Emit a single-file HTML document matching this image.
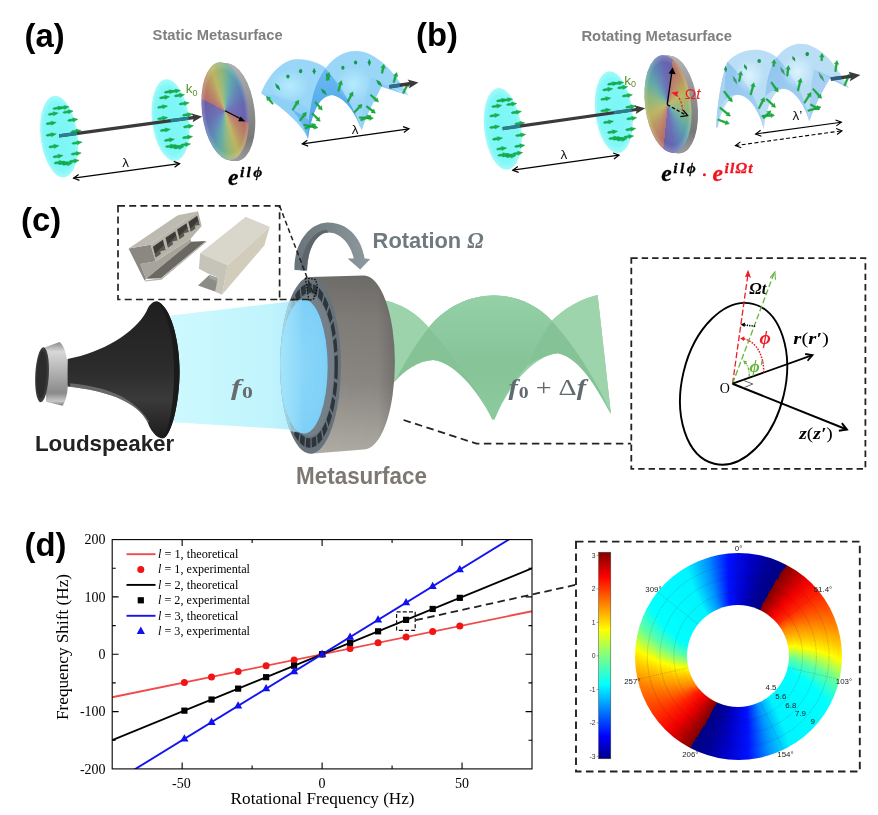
<!DOCTYPE html>
<html lang="en"><head><meta charset="utf-8"><title>Rotating metasurface figure</title>
<style>
html,body{margin:0;padding:0;background:#fff}
#root{position:relative;width:878px;height:815px;overflow:hidden;background:#fff;filter:blur(0.6px)}
#root>svg{position:absolute;left:0;top:0}
#root>div{position:absolute}
.cg{position:absolute;border-radius:50%}
</style></head><body>
<div id="root">
<svg width="878" height="815" viewBox="0 0 878 815"><defs>
<radialGradient id="cy" cx="0.5" cy="0.5" r="0.5"><stop offset="0" stop-color="#7bf6f6"/><stop offset="0.82" stop-color="#82f7f7"/><stop offset="1" stop-color="#a6fafa"/></radialGradient>
<linearGradient id="rim" x1="0" y1="0" x2="0" y2="1"><stop offset="0" stop-color="#b4b4b4"/><stop offset="0.45" stop-color="#909090"/><stop offset="0.8" stop-color="#787878"/><stop offset="1" stop-color="#9a9a9a"/></linearGradient>

<linearGradient id="jet" x1="0" y1="1" x2="0" y2="0"><stop offset="0" stop-color="#000084"/><stop offset="0.11" stop-color="#0000ff"/><stop offset="0.36" stop-color="#00ffff"/><stop offset="0.5" stop-color="#80ff80"/><stop offset="0.625" stop-color="#ffff00"/><stop offset="0.88" stop-color="#ff0000"/><stop offset="1" stop-color="#800000"/></linearGradient>
</defs>
<ellipse cx="231.9" cy="112.19" rx="22.8" ry="49" fill="url(#rim)" transform="rotate(-7 231.9 112.19)"/><ellipse cx="231.43" cy="112.14" rx="22.8" ry="49" fill="url(#rim)" transform="rotate(-7 231.43 112.14)"/><ellipse cx="230.96" cy="112.08" rx="22.8" ry="49" fill="url(#rim)" transform="rotate(-7 230.96 112.08)"/><ellipse cx="230.49" cy="112.02" rx="22.8" ry="49" fill="url(#rim)" transform="rotate(-7 230.49 112.02)"/><ellipse cx="230.01" cy="111.97" rx="22.8" ry="49" fill="url(#rim)" transform="rotate(-7 230.01 111.97)"/><ellipse cx="229.54" cy="111.91" rx="22.8" ry="49" fill="url(#rim)" transform="rotate(-7 229.54 111.91)"/><ellipse cx="229.07" cy="111.85" rx="22.8" ry="49" fill="url(#rim)" transform="rotate(-7 229.07 111.85)"/><ellipse cx="228.6" cy="111.8" rx="22.8" ry="49" fill="url(#rim)" transform="rotate(-7 228.6 111.8)"/><ellipse cx="228.13" cy="111.74" rx="22.8" ry="49" fill="url(#rim)" transform="rotate(-7 228.13 111.74)"/><ellipse cx="227.66" cy="111.68" rx="22.8" ry="49" fill="url(#rim)" transform="rotate(-7 227.66 111.68)"/><ellipse cx="227.19" cy="111.63" rx="22.8" ry="49" fill="url(#rim)" transform="rotate(-7 227.19 111.63)"/><ellipse cx="226.71" cy="111.57" rx="22.8" ry="49" fill="url(#rim)" transform="rotate(-7 226.71 111.57)"/><ellipse cx="226.24" cy="111.51" rx="22.8" ry="49" fill="url(#rim)" transform="rotate(-7 226.24 111.51)"/><ellipse cx="225.77" cy="111.46" rx="22.8" ry="49" fill="url(#rim)" transform="rotate(-7 225.77 111.46)"/><ellipse cx="225.3" cy="111.4" rx="22.8" ry="49" fill="url(#rim)" transform="rotate(-7 225.3 111.4)"/>
<ellipse cx="674.6" cy="104.59" rx="22.8" ry="49" fill="url(#rim)" transform="rotate(-7 674.6 104.59)"/><ellipse cx="674.13" cy="104.54" rx="22.8" ry="49" fill="url(#rim)" transform="rotate(-7 674.13 104.54)"/><ellipse cx="673.66" cy="104.48" rx="22.8" ry="49" fill="url(#rim)" transform="rotate(-7 673.66 104.48)"/><ellipse cx="673.19" cy="104.42" rx="22.8" ry="49" fill="url(#rim)" transform="rotate(-7 673.19 104.42)"/><ellipse cx="672.71" cy="104.37" rx="22.8" ry="49" fill="url(#rim)" transform="rotate(-7 672.71 104.37)"/><ellipse cx="672.24" cy="104.31" rx="22.8" ry="49" fill="url(#rim)" transform="rotate(-7 672.24 104.31)"/><ellipse cx="671.77" cy="104.25" rx="22.8" ry="49" fill="url(#rim)" transform="rotate(-7 671.77 104.25)"/><ellipse cx="671.3" cy="104.2" rx="22.8" ry="49" fill="url(#rim)" transform="rotate(-7 671.3 104.2)"/><ellipse cx="670.83" cy="104.14" rx="22.8" ry="49" fill="url(#rim)" transform="rotate(-7 670.83 104.14)"/><ellipse cx="670.36" cy="104.08" rx="22.8" ry="49" fill="url(#rim)" transform="rotate(-7 670.36 104.08)"/><ellipse cx="669.89" cy="104.03" rx="22.8" ry="49" fill="url(#rim)" transform="rotate(-7 669.89 104.03)"/><ellipse cx="669.41" cy="103.97" rx="22.8" ry="49" fill="url(#rim)" transform="rotate(-7 669.41 103.97)"/><ellipse cx="668.94" cy="103.91" rx="22.8" ry="49" fill="url(#rim)" transform="rotate(-7 668.94 103.91)"/><ellipse cx="668.47" cy="103.86" rx="22.8" ry="49" fill="url(#rim)" transform="rotate(-7 668.47 103.86)"/><ellipse cx="668" cy="103.8" rx="22.8" ry="49" fill="url(#rim)" transform="rotate(-7 668 103.8)"/>
<rect x="598.6" y="552.2" width="12.2" height="206.6" fill="url(#jet)" stroke="#444" stroke-width="0.5"/>
</svg>
<div class="cg" style="left:176.3px;top:62.4px;width:98px;height:98px;transform:rotate(-7deg) scaleX(0.47);background:conic-gradient(from 288deg,#b56a68 0deg,#b98a62 25.71deg,#b9b45e 51.43deg,#8fb57a 77.14deg,#5fa9a6 102.86deg,#5d86b4 128.57deg,#6468b2 154.29deg,#6b5fa6 180deg,#b56a68 180deg,#b98a62 205.71deg,#b9b45e 231.43deg,#8fb57a 257.14deg,#5fa9a6 282.86deg,#5d86b4 308.57deg,#6468b2 334.29deg,#6b5fa6 360deg)"></div>
<div class="cg" style="left:619px;top:54.8px;width:98px;height:98px;transform:rotate(-7deg) scaleX(0.47);background:conic-gradient(from 26deg,#b56a68 0deg,#b98a62 25.71deg,#b9b45e 51.43deg,#8fb57a 77.14deg,#5fa9a6 102.86deg,#5d86b4 128.57deg,#6468b2 154.29deg,#6b5fa6 180deg,#b56a68 180deg,#b98a62 205.71deg,#b9b45e 231.43deg,#8fb57a 257.14deg,#5fa9a6 282.86deg,#5d86b4 308.57deg,#6468b2 334.29deg,#6b5fa6 360deg)"></div>
<div class="cg" style="left:634.6px;top:552.7px;width:207.2px;height:207.2px;background:conic-gradient(from 27.6deg,#800000 0deg,#f00000 15deg,#ff2000 24deg,#ff8000 44deg,#ffc800 56deg,#ffff00 64deg,#b4ff4c 70deg,#60ffa0 77deg,#00ffff 90deg,#00f4ff 122deg,#0090ff 135deg,#0010ff 147deg,#0000c8 160deg,#000098 170deg,#000084 180deg,#800000 180deg,#f00000 195deg,#ff2000 204deg,#ff8000 226.5deg,#ffc800 238.5deg,#ffff00 246.5deg,#b4ff4c 252.5deg,#60ffa0 259.5deg,#00ffff 272.5deg,#00f4ff 302deg,#0090ff 315deg,#0010ff 327deg,#0000c8 340deg,#000098 350deg,#000084 360deg)"></div>
<div class="cg" style="left:638.97px;top:557.07px;width:198.47px;height:198.47px;background:conic-gradient(from 27.36deg,#800000 0deg,#f00000 15deg,#ff2000 24deg,#ff8000 43.14deg,#ffc800 55.14deg,#ffff00 63.14deg,#b4ff4c 69.14deg,#60ffa0 76.14deg,#00ffff 89.14deg,#00f4ff 121.64deg,#0090ff 134.82deg,#0010ff 146.91deg,#0000c8 160deg,#000098 170deg,#000084 180deg,#800000 180deg,#f00000 195deg,#ff2000 204deg,#ff8000 225.18deg,#ffc800 237.18deg,#ffff00 245.18deg,#b4ff4c 251.18deg,#60ffa0 258.18deg,#00ffff 271.18deg,#00f4ff 301.64deg,#0090ff 314.82deg,#0010ff 326.91deg,#0000c8 340deg,#000098 350deg,#000084 360deg)"></div>
<div class="cg" style="left:643.33px;top:561.43px;width:189.73px;height:189.73px;background:conic-gradient(from 27.13deg,#800000 0deg,#f00000 15deg,#ff2000 24deg,#ff8000 42.27deg,#ffc800 54.27deg,#ffff00 62.27deg,#b4ff4c 68.27deg,#60ffa0 75.27deg,#00ffff 88.27deg,#00f4ff 121.27deg,#0090ff 134.64deg,#0010ff 146.82deg,#0000c8 160deg,#000098 170deg,#000084 180deg,#800000 180deg,#f00000 195deg,#ff2000 204deg,#ff8000 223.86deg,#ffc800 235.86deg,#ffff00 243.86deg,#b4ff4c 249.86deg,#60ffa0 256.86deg,#00ffff 269.86deg,#00f4ff 301.27deg,#0090ff 314.64deg,#0010ff 326.82deg,#0000c8 340deg,#000098 350deg,#000084 360deg)"></div>
<div class="cg" style="left:647.7px;top:565.8px;width:181px;height:181px;background:conic-gradient(from 26.89deg,#800000 0deg,#f00000 15deg,#ff2000 24deg,#ff8000 41.41deg,#ffc800 53.41deg,#ffff00 61.41deg,#b4ff4c 67.41deg,#60ffa0 74.41deg,#00ffff 87.41deg,#00f4ff 120.91deg,#0090ff 134.45deg,#0010ff 146.73deg,#0000c8 160deg,#000098 170deg,#000084 180deg,#800000 180deg,#f00000 195deg,#ff2000 204deg,#ff8000 222.55deg,#ffc800 234.55deg,#ffff00 242.55deg,#b4ff4c 248.55deg,#60ffa0 255.55deg,#00ffff 268.55deg,#00f4ff 300.91deg,#0090ff 314.45deg,#0010ff 326.73deg,#0000c8 340deg,#000098 350deg,#000084 360deg)"></div>
<div class="cg" style="left:652.07px;top:570.17px;width:172.27px;height:172.27px;background:conic-gradient(from 26.65deg,#800000 0deg,#f00000 15deg,#ff2000 24deg,#ff8000 40.55deg,#ffc800 52.55deg,#ffff00 60.55deg,#b4ff4c 66.55deg,#60ffa0 73.55deg,#00ffff 86.55deg,#00f4ff 120.55deg,#0090ff 134.27deg,#0010ff 146.64deg,#0000c8 160deg,#000098 170deg,#000084 180deg,#800000 180deg,#f00000 195deg,#ff2000 204deg,#ff8000 221.23deg,#ffc800 233.23deg,#ffff00 241.23deg,#b4ff4c 247.23deg,#60ffa0 254.23deg,#00ffff 267.23deg,#00f4ff 300.55deg,#0090ff 314.27deg,#0010ff 326.64deg,#0000c8 340deg,#000098 350deg,#000084 360deg)"></div>
<div class="cg" style="left:656.43px;top:574.53px;width:163.53px;height:163.53px;background:conic-gradient(from 26.42deg,#800000 0deg,#f00000 15deg,#ff2000 24deg,#ff8000 39.68deg,#ffc800 51.68deg,#ffff00 59.68deg,#b4ff4c 65.68deg,#60ffa0 72.68deg,#00ffff 85.68deg,#00f4ff 120.18deg,#0090ff 134.09deg,#0010ff 146.55deg,#0000c8 160deg,#000098 170deg,#000084 180deg,#800000 180deg,#f00000 195deg,#ff2000 204deg,#ff8000 219.91deg,#ffc800 231.91deg,#ffff00 239.91deg,#b4ff4c 245.91deg,#60ffa0 252.91deg,#00ffff 265.91deg,#00f4ff 300.18deg,#0090ff 314.09deg,#0010ff 326.55deg,#0000c8 340deg,#000098 350deg,#000084 360deg)"></div>
<div class="cg" style="left:660.8px;top:578.9px;width:154.8px;height:154.8px;background:conic-gradient(from 26.18deg,#800000 0deg,#f00000 15deg,#ff2000 24deg,#ff8000 38.82deg,#ffc800 50.82deg,#ffff00 58.82deg,#b4ff4c 64.82deg,#60ffa0 71.82deg,#00ffff 84.82deg,#00f4ff 119.82deg,#0090ff 133.91deg,#0010ff 146.45deg,#0000c8 160deg,#000098 170deg,#000084 180deg,#800000 180deg,#f00000 195deg,#ff2000 204deg,#ff8000 218.59deg,#ffc800 230.59deg,#ffff00 238.59deg,#b4ff4c 244.59deg,#60ffa0 251.59deg,#00ffff 264.59deg,#00f4ff 299.82deg,#0090ff 313.91deg,#0010ff 326.45deg,#0000c8 340deg,#000098 350deg,#000084 360deg)"></div>
<div class="cg" style="left:665.17px;top:583.27px;width:146.07px;height:146.07px;background:conic-gradient(from 25.95deg,#800000 0deg,#f00000 15deg,#ff2000 24deg,#ff8000 37.95deg,#ffc800 49.95deg,#ffff00 57.95deg,#b4ff4c 63.95deg,#60ffa0 70.95deg,#00ffff 83.95deg,#00f4ff 119.45deg,#0090ff 133.73deg,#0010ff 146.36deg,#0000c8 160deg,#000098 170deg,#000084 180deg,#800000 180deg,#f00000 195deg,#ff2000 204deg,#ff8000 217.27deg,#ffc800 229.27deg,#ffff00 237.27deg,#b4ff4c 243.27deg,#60ffa0 250.27deg,#00ffff 263.27deg,#00f4ff 299.45deg,#0090ff 313.73deg,#0010ff 326.36deg,#0000c8 340deg,#000098 350deg,#000084 360deg)"></div>
<div class="cg" style="left:669.53px;top:587.63px;width:137.33px;height:137.33px;background:conic-gradient(from 25.71deg,#800000 0deg,#f00000 15deg,#ff2000 24deg,#ff8000 37.09deg,#ffc800 49.09deg,#ffff00 57.09deg,#b4ff4c 63.09deg,#60ffa0 70.09deg,#00ffff 83.09deg,#00f4ff 119.09deg,#0090ff 133.55deg,#0010ff 146.27deg,#0000c8 160deg,#000098 170deg,#000084 180deg,#800000 180deg,#f00000 195deg,#ff2000 204deg,#ff8000 215.95deg,#ffc800 227.95deg,#ffff00 235.95deg,#b4ff4c 241.95deg,#60ffa0 248.95deg,#00ffff 261.95deg,#00f4ff 299.09deg,#0090ff 313.55deg,#0010ff 326.27deg,#0000c8 340deg,#000098 350deg,#000084 360deg)"></div>
<div class="cg" style="left:673.9px;top:592px;width:128.6px;height:128.6px;background:conic-gradient(from 25.47deg,#800000 0deg,#f00000 15deg,#ff2000 24deg,#ff8000 36.23deg,#ffc800 48.23deg,#ffff00 56.23deg,#b4ff4c 62.23deg,#60ffa0 69.23deg,#00ffff 82.23deg,#00f4ff 118.73deg,#0090ff 133.36deg,#0010ff 146.18deg,#0000c8 160deg,#000098 170deg,#000084 180deg,#800000 180deg,#f00000 195deg,#ff2000 204deg,#ff8000 214.64deg,#ffc800 226.64deg,#ffff00 234.64deg,#b4ff4c 240.64deg,#60ffa0 247.64deg,#00ffff 260.64deg,#00f4ff 298.73deg,#0090ff 313.36deg,#0010ff 326.18deg,#0000c8 340deg,#000098 350deg,#000084 360deg)"></div>
<div class="cg" style="left:678.27px;top:596.37px;width:119.87px;height:119.87px;background:conic-gradient(from 25.24deg,#800000 0deg,#f00000 15deg,#ff2000 24deg,#ff8000 35.36deg,#ffc800 47.36deg,#ffff00 55.36deg,#b4ff4c 61.36deg,#60ffa0 68.36deg,#00ffff 81.36deg,#00f4ff 118.36deg,#0090ff 133.18deg,#0010ff 146.09deg,#0000c8 160deg,#000098 170deg,#000084 180deg,#800000 180deg,#f00000 195deg,#ff2000 204deg,#ff8000 213.32deg,#ffc800 225.32deg,#ffff00 233.32deg,#b4ff4c 239.32deg,#60ffa0 246.32deg,#00ffff 259.32deg,#00f4ff 298.36deg,#0090ff 313.18deg,#0010ff 326.09deg,#0000c8 340deg,#000098 350deg,#000084 360deg)"></div>
<div class="cg" style="left:682.63px;top:600.73px;width:111.13px;height:111.13px;background:conic-gradient(from 25deg,#800000 0deg,#f00000 15deg,#ff2000 24deg,#ff8000 34.5deg,#ffc800 46.5deg,#ffff00 54.5deg,#b4ff4c 60.5deg,#60ffa0 67.5deg,#00ffff 80.5deg,#00f4ff 118deg,#0090ff 133deg,#0010ff 146deg,#0000c8 160deg,#000098 170deg,#000084 180deg,#800000 180deg,#f00000 195deg,#ff2000 204deg,#ff8000 212deg,#ffc800 224deg,#ffff00 232deg,#b4ff4c 238deg,#60ffa0 245deg,#00ffff 258deg,#00f4ff 298deg,#0090ff 313deg,#0010ff 326deg,#0000c8 340deg,#000098 350deg,#000084 360deg)"></div>
<div class="cg" style="left:687px;top:605.1px;width:102.4px;height:102.4px;background:#fff"></div>
<svg width="878" height="815" viewBox="0 0 878 815">
<defs><radialGradient id="dshade" cx="0.5" cy="0.5" r="0.5"><stop offset="0" stop-color="#fff" stop-opacity="0.12"/><stop offset="0.85" stop-color="#fff" stop-opacity="0"/><stop offset="1" stop-color="#ddd" stop-opacity="0.25"/></radialGradient></defs>
<ellipse cx="225.3" cy="111.4" rx="22.8" ry="49" fill="url(#dshade)" transform="rotate(-7 225.3 111.4)"/>
<ellipse cx="668" cy="103.8" rx="22.8" ry="49" fill="url(#dshade)" transform="rotate(-7 668 103.8)"/>
<g id="ab"><ellipse cx="59.2" cy="136.6" rx="18.6" ry="41.2" fill="url(#cy)" transform="rotate(-7 59.2 136.6)"/><ellipse cx="170.6" cy="120.2" rx="18.6" ry="41.2" fill="url(#cy)" transform="rotate(-7 170.6 120.2)"/><polygon points="-5.2,0 -4,-0.95 0.6,-1.05 0.2,-2.05 5.2,0 0.2,2.05 0.6,1.05 -4,0.95" fill="#12b24c" stroke="#0f9a44" stroke-width="0.4" transform="translate(57.9 108.1) rotate(-8)"/><polygon points="-5.2,0 -4,-0.95 0.6,-1.05 0.2,-2.05 5.2,0 0.2,2.05 0.6,1.05 -4,0.95" fill="#12b24c" stroke="#0f9a44" stroke-width="0.4" transform="translate(63.9 107.5) rotate(-8)"/><polygon points="-5.2,0 -4,-0.95 0.6,-1.05 0.2,-2.05 5.2,0 0.2,2.05 0.6,1.05 -4,0.95" fill="#12b24c" stroke="#0f9a44" stroke-width="0.4" transform="translate(53.1 113.8) rotate(-8)"/><polygon points="-5.2,0 -4,-0.95 0.6,-1.05 0.2,-2.05 5.2,0 0.2,2.05 0.6,1.05 -4,0.95" fill="#12b24c" stroke="#0f9a44" stroke-width="0.4" transform="translate(68 111.8) rotate(-8)"/><polygon points="-5.2,0 -4,-0.95 0.6,-1.05 0.2,-2.05 5.2,0 0.2,2.05 0.6,1.05 -4,0.95" fill="#12b24c" stroke="#0f9a44" stroke-width="0.4" transform="translate(51.1 123.2) rotate(-8)"/><polygon points="-5.2,0 -4,-0.95 0.6,-1.05 0.2,-2.05 5.2,0 0.2,2.05 0.6,1.05 -4,0.95" fill="#12b24c" stroke="#0f9a44" stroke-width="0.4" transform="translate(72.7 119.9) rotate(-8)"/><polygon points="-5.2,0 -4,-0.95 0.6,-1.05 0.2,-2.05 5.2,0 0.2,2.05 0.6,1.05 -4,0.95" fill="#12b24c" stroke="#0f9a44" stroke-width="0.4" transform="translate(51.1 134.7) rotate(-8)"/><polygon points="-5.2,0 -4,-0.95 0.6,-1.05 0.2,-2.05 5.2,0 0.2,2.05 0.6,1.05 -4,0.95" fill="#12b24c" stroke="#0f9a44" stroke-width="0.4" transform="translate(76.1 131.1) rotate(-8)"/><polygon points="-5.2,0 -4,-0.95 0.6,-1.05 0.2,-2.05 5.2,0 0.2,2.05 0.6,1.05 -4,0.95" fill="#12b24c" stroke="#0f9a44" stroke-width="0.4" transform="translate(53.8 146.4) rotate(-8)"/><polygon points="-5.2,0 -4,-0.95 0.6,-1.05 0.2,-2.05 5.2,0 0.2,2.05 0.6,1.05 -4,0.95" fill="#12b24c" stroke="#0f9a44" stroke-width="0.4" transform="translate(77 142.8) rotate(-8)"/><polygon points="-5.2,0 -4,-0.95 0.6,-1.05 0.2,-2.05 5.2,0 0.2,2.05 0.6,1.05 -4,0.95" fill="#12b24c" stroke="#0f9a44" stroke-width="0.4" transform="translate(57.9 156.3) rotate(-8)"/><polygon points="-5.2,0 -4,-0.95 0.6,-1.05 0.2,-2.05 5.2,0 0.2,2.05 0.6,1.05 -4,0.95" fill="#12b24c" stroke="#0f9a44" stroke-width="0.4" transform="translate(76.1 153.6) rotate(-8)"/><polygon points="-5.2,0 -4,-0.95 0.6,-1.05 0.2,-2.05 5.2,0 0.2,2.05 0.6,1.05 -4,0.95" fill="#12b24c" stroke="#0f9a44" stroke-width="0.4" transform="translate(63.2 163) rotate(-8)"/><polygon points="-5.2,0 -4,-0.95 0.6,-1.05 0.2,-2.05 5.2,0 0.2,2.05 0.6,1.05 -4,0.95" fill="#12b24c" stroke="#0f9a44" stroke-width="0.4" transform="translate(74 161) rotate(-8)"/><polygon points="-5.2,0 -4,-0.95 0.6,-1.05 0.2,-2.05 5.2,0 0.2,2.05 0.6,1.05 -4,0.95" fill="#12b24c" stroke="#0f9a44" stroke-width="0.4" transform="translate(67.3 163.8) rotate(-8)"/><polygon points="-5.2,0 -4,-0.95 0.6,-1.05 0.2,-2.05 5.2,0 0.2,2.05 0.6,1.05 -4,0.95" fill="#12b24c" stroke="#0f9a44" stroke-width="0.4" transform="translate(59.2 162.5) rotate(-8)"/><polygon points="-5.2,0 -4,-0.95 0.6,-1.05 0.2,-2.05 5.2,0 0.2,2.05 0.6,1.05 -4,0.95" fill="#12b24c" stroke="#0f9a44" stroke-width="0.4" transform="translate(169.3 91.7) rotate(-8)"/><polygon points="-5.2,0 -4,-0.95 0.6,-1.05 0.2,-2.05 5.2,0 0.2,2.05 0.6,1.05 -4,0.95" fill="#12b24c" stroke="#0f9a44" stroke-width="0.4" transform="translate(175.3 91.1) rotate(-8)"/><polygon points="-5.2,0 -4,-0.95 0.6,-1.05 0.2,-2.05 5.2,0 0.2,2.05 0.6,1.05 -4,0.95" fill="#12b24c" stroke="#0f9a44" stroke-width="0.4" transform="translate(164.5 97.4) rotate(-8)"/><polygon points="-5.2,0 -4,-0.95 0.6,-1.05 0.2,-2.05 5.2,0 0.2,2.05 0.6,1.05 -4,0.95" fill="#12b24c" stroke="#0f9a44" stroke-width="0.4" transform="translate(179.4 95.4) rotate(-8)"/><polygon points="-5.2,0 -4,-0.95 0.6,-1.05 0.2,-2.05 5.2,0 0.2,2.05 0.6,1.05 -4,0.95" fill="#12b24c" stroke="#0f9a44" stroke-width="0.4" transform="translate(162.5 106.8) rotate(-8)"/><polygon points="-5.2,0 -4,-0.95 0.6,-1.05 0.2,-2.05 5.2,0 0.2,2.05 0.6,1.05 -4,0.95" fill="#12b24c" stroke="#0f9a44" stroke-width="0.4" transform="translate(184.1 103.5) rotate(-8)"/><polygon points="-5.2,0 -4,-0.95 0.6,-1.05 0.2,-2.05 5.2,0 0.2,2.05 0.6,1.05 -4,0.95" fill="#12b24c" stroke="#0f9a44" stroke-width="0.4" transform="translate(162.5 118.3) rotate(-8)"/><polygon points="-5.2,0 -4,-0.95 0.6,-1.05 0.2,-2.05 5.2,0 0.2,2.05 0.6,1.05 -4,0.95" fill="#12b24c" stroke="#0f9a44" stroke-width="0.4" transform="translate(187.5 114.7) rotate(-8)"/><polygon points="-5.2,0 -4,-0.95 0.6,-1.05 0.2,-2.05 5.2,0 0.2,2.05 0.6,1.05 -4,0.95" fill="#12b24c" stroke="#0f9a44" stroke-width="0.4" transform="translate(165.2 130) rotate(-8)"/><polygon points="-5.2,0 -4,-0.95 0.6,-1.05 0.2,-2.05 5.2,0 0.2,2.05 0.6,1.05 -4,0.95" fill="#12b24c" stroke="#0f9a44" stroke-width="0.4" transform="translate(188.4 126.4) rotate(-8)"/><polygon points="-5.2,0 -4,-0.95 0.6,-1.05 0.2,-2.05 5.2,0 0.2,2.05 0.6,1.05 -4,0.95" fill="#12b24c" stroke="#0f9a44" stroke-width="0.4" transform="translate(169.3 139.9) rotate(-8)"/><polygon points="-5.2,0 -4,-0.95 0.6,-1.05 0.2,-2.05 5.2,0 0.2,2.05 0.6,1.05 -4,0.95" fill="#12b24c" stroke="#0f9a44" stroke-width="0.4" transform="translate(187.5 137.2) rotate(-8)"/><polygon points="-5.2,0 -4,-0.95 0.6,-1.05 0.2,-2.05 5.2,0 0.2,2.05 0.6,1.05 -4,0.95" fill="#12b24c" stroke="#0f9a44" stroke-width="0.4" transform="translate(174.6 146.6) rotate(-8)"/><polygon points="-5.2,0 -4,-0.95 0.6,-1.05 0.2,-2.05 5.2,0 0.2,2.05 0.6,1.05 -4,0.95" fill="#12b24c" stroke="#0f9a44" stroke-width="0.4" transform="translate(185.4 144.6) rotate(-8)"/><polygon points="-5.2,0 -4,-0.95 0.6,-1.05 0.2,-2.05 5.2,0 0.2,2.05 0.6,1.05 -4,0.95" fill="#12b24c" stroke="#0f9a44" stroke-width="0.4" transform="translate(178.7 147.4) rotate(-8)"/><polygon points="-5.2,0 -4,-0.95 0.6,-1.05 0.2,-2.05 5.2,0 0.2,2.05 0.6,1.05 -4,0.95" fill="#12b24c" stroke="#0f9a44" stroke-width="0.4" transform="translate(170.6 146.1) rotate(-8)"/><polygon points="58.98,134.21 193.07,116.02 191.5,113.41 202.2,116.4 192.68,122.13 193.5,119.2 59.42,137.39" fill="#3a3a3a"/><line x1="59.2" y1="135.8" x2="77.08" y2="133.38" stroke="#2b7f8c" stroke-width="3.2"/><line x1="170.74" y1="120.67" x2="188.62" y2="118.24" stroke="#2b7f8c" stroke-width="3.2"/><line x1="73.6" y1="178.2" x2="179.6" y2="163.6" stroke="#000" stroke-width="1.2"/><polyline points="173.74,161.38 179.6,163.6 174.56,167.32" fill="none" stroke="#000" stroke-width="1.2" stroke-linejoin="miter"/><polyline points="79.46,180.42 73.6,178.2 78.64,174.48" fill="none" stroke="#000" stroke-width="1.2" stroke-linejoin="miter"/><text x="125.6" y="167" text-anchor="middle" font-family='"Liberation Sans", sans-serif' font-size="13.5" fill="#111">λ</text><text x="185.8" y="93.3" font-family='"Liberation Sans", sans-serif' font-size="13.5" fill="#5c8f2c">k<tspan font-size="9" dy="2.6">0</tspan></text><text x="152.6" y="39.8" font-family='"Liberation Sans", sans-serif' font-weight="bold" font-size="13.8" fill="#7f7f7f" textLength="130" lengthAdjust="spacingAndGlyphs">Static Metasurface</text><text x="24.5" y="46.5" font-family='"Liberation Sans", sans-serif' font-weight="bold" font-size="32.8" fill="#000">(a)</text><line x1="225" y1="110.8" x2="241.5" y2="119.3" stroke="#000" stroke-width="1.2"/><polygon points="245.3,121.4 238.2,121.2 240.6,116.6" fill="#000"/><text x="228" y="185.2" font-family='"Liberation Serif", "DejaVu Serif", serif' font-weight="bold" font-style="italic" font-size="23.5" fill="#000" stroke="#000" stroke-width="0.3">e</text><text x="240" y="177.3" font-family='"Liberation Serif", "DejaVu Serif", serif' font-weight="bold" font-style="italic" font-size="15.5" fill="#000" stroke="#000" stroke-width="0.3" textLength="22.2" lengthAdjust="spacing">ilϕ</text><ellipse cx="502.8" cy="128.9" rx="18.6" ry="41.2" fill="url(#cy)" transform="rotate(-7 502.8 128.9)"/><ellipse cx="613.8" cy="112.2" rx="18.6" ry="41.2" fill="url(#cy)" transform="rotate(-7 613.8 112.2)"/><polygon points="-5.2,0 -4,-0.95 0.6,-1.05 0.2,-2.05 5.2,0 0.2,2.05 0.6,1.05 -4,0.95" fill="#12b24c" stroke="#0f9a44" stroke-width="0.4" transform="translate(501.5 100.4) rotate(-8)"/><polygon points="-5.2,0 -4,-0.95 0.6,-1.05 0.2,-2.05 5.2,0 0.2,2.05 0.6,1.05 -4,0.95" fill="#12b24c" stroke="#0f9a44" stroke-width="0.4" transform="translate(507.5 99.8) rotate(-8)"/><polygon points="-5.2,0 -4,-0.95 0.6,-1.05 0.2,-2.05 5.2,0 0.2,2.05 0.6,1.05 -4,0.95" fill="#12b24c" stroke="#0f9a44" stroke-width="0.4" transform="translate(496.7 106.1) rotate(-8)"/><polygon points="-5.2,0 -4,-0.95 0.6,-1.05 0.2,-2.05 5.2,0 0.2,2.05 0.6,1.05 -4,0.95" fill="#12b24c" stroke="#0f9a44" stroke-width="0.4" transform="translate(511.6 104.1) rotate(-8)"/><polygon points="-5.2,0 -4,-0.95 0.6,-1.05 0.2,-2.05 5.2,0 0.2,2.05 0.6,1.05 -4,0.95" fill="#12b24c" stroke="#0f9a44" stroke-width="0.4" transform="translate(494.7 115.5) rotate(-8)"/><polygon points="-5.2,0 -4,-0.95 0.6,-1.05 0.2,-2.05 5.2,0 0.2,2.05 0.6,1.05 -4,0.95" fill="#12b24c" stroke="#0f9a44" stroke-width="0.4" transform="translate(516.3 112.2) rotate(-8)"/><polygon points="-5.2,0 -4,-0.95 0.6,-1.05 0.2,-2.05 5.2,0 0.2,2.05 0.6,1.05 -4,0.95" fill="#12b24c" stroke="#0f9a44" stroke-width="0.4" transform="translate(494.7 127) rotate(-8)"/><polygon points="-5.2,0 -4,-0.95 0.6,-1.05 0.2,-2.05 5.2,0 0.2,2.05 0.6,1.05 -4,0.95" fill="#12b24c" stroke="#0f9a44" stroke-width="0.4" transform="translate(519.7 123.4) rotate(-8)"/><polygon points="-5.2,0 -4,-0.95 0.6,-1.05 0.2,-2.05 5.2,0 0.2,2.05 0.6,1.05 -4,0.95" fill="#12b24c" stroke="#0f9a44" stroke-width="0.4" transform="translate(497.4 138.7) rotate(-8)"/><polygon points="-5.2,0 -4,-0.95 0.6,-1.05 0.2,-2.05 5.2,0 0.2,2.05 0.6,1.05 -4,0.95" fill="#12b24c" stroke="#0f9a44" stroke-width="0.4" transform="translate(520.6 135.1) rotate(-8)"/><polygon points="-5.2,0 -4,-0.95 0.6,-1.05 0.2,-2.05 5.2,0 0.2,2.05 0.6,1.05 -4,0.95" fill="#12b24c" stroke="#0f9a44" stroke-width="0.4" transform="translate(501.5 148.6) rotate(-8)"/><polygon points="-5.2,0 -4,-0.95 0.6,-1.05 0.2,-2.05 5.2,0 0.2,2.05 0.6,1.05 -4,0.95" fill="#12b24c" stroke="#0f9a44" stroke-width="0.4" transform="translate(519.7 145.9) rotate(-8)"/><polygon points="-5.2,0 -4,-0.95 0.6,-1.05 0.2,-2.05 5.2,0 0.2,2.05 0.6,1.05 -4,0.95" fill="#12b24c" stroke="#0f9a44" stroke-width="0.4" transform="translate(506.8 155.3) rotate(-8)"/><polygon points="-5.2,0 -4,-0.95 0.6,-1.05 0.2,-2.05 5.2,0 0.2,2.05 0.6,1.05 -4,0.95" fill="#12b24c" stroke="#0f9a44" stroke-width="0.4" transform="translate(517.6 153.3) rotate(-8)"/><polygon points="-5.2,0 -4,-0.95 0.6,-1.05 0.2,-2.05 5.2,0 0.2,2.05 0.6,1.05 -4,0.95" fill="#12b24c" stroke="#0f9a44" stroke-width="0.4" transform="translate(510.9 156.1) rotate(-8)"/><polygon points="-5.2,0 -4,-0.95 0.6,-1.05 0.2,-2.05 5.2,0 0.2,2.05 0.6,1.05 -4,0.95" fill="#12b24c" stroke="#0f9a44" stroke-width="0.4" transform="translate(502.8 154.8) rotate(-8)"/><polygon points="-5.2,0 -4,-0.95 0.6,-1.05 0.2,-2.05 5.2,0 0.2,2.05 0.6,1.05 -4,0.95" fill="#12b24c" stroke="#0f9a44" stroke-width="0.4" transform="translate(612.5 83.7) rotate(-8)"/><polygon points="-5.2,0 -4,-0.95 0.6,-1.05 0.2,-2.05 5.2,0 0.2,2.05 0.6,1.05 -4,0.95" fill="#12b24c" stroke="#0f9a44" stroke-width="0.4" transform="translate(618.5 83.1) rotate(-8)"/><polygon points="-5.2,0 -4,-0.95 0.6,-1.05 0.2,-2.05 5.2,0 0.2,2.05 0.6,1.05 -4,0.95" fill="#12b24c" stroke="#0f9a44" stroke-width="0.4" transform="translate(607.7 89.4) rotate(-8)"/><polygon points="-5.2,0 -4,-0.95 0.6,-1.05 0.2,-2.05 5.2,0 0.2,2.05 0.6,1.05 -4,0.95" fill="#12b24c" stroke="#0f9a44" stroke-width="0.4" transform="translate(622.6 87.4) rotate(-8)"/><polygon points="-5.2,0 -4,-0.95 0.6,-1.05 0.2,-2.05 5.2,0 0.2,2.05 0.6,1.05 -4,0.95" fill="#12b24c" stroke="#0f9a44" stroke-width="0.4" transform="translate(605.7 98.8) rotate(-8)"/><polygon points="-5.2,0 -4,-0.95 0.6,-1.05 0.2,-2.05 5.2,0 0.2,2.05 0.6,1.05 -4,0.95" fill="#12b24c" stroke="#0f9a44" stroke-width="0.4" transform="translate(627.3 95.5) rotate(-8)"/><polygon points="-5.2,0 -4,-0.95 0.6,-1.05 0.2,-2.05 5.2,0 0.2,2.05 0.6,1.05 -4,0.95" fill="#12b24c" stroke="#0f9a44" stroke-width="0.4" transform="translate(605.7 110.3) rotate(-8)"/><polygon points="-5.2,0 -4,-0.95 0.6,-1.05 0.2,-2.05 5.2,0 0.2,2.05 0.6,1.05 -4,0.95" fill="#12b24c" stroke="#0f9a44" stroke-width="0.4" transform="translate(630.7 106.7) rotate(-8)"/><polygon points="-5.2,0 -4,-0.95 0.6,-1.05 0.2,-2.05 5.2,0 0.2,2.05 0.6,1.05 -4,0.95" fill="#12b24c" stroke="#0f9a44" stroke-width="0.4" transform="translate(608.4 122) rotate(-8)"/><polygon points="-5.2,0 -4,-0.95 0.6,-1.05 0.2,-2.05 5.2,0 0.2,2.05 0.6,1.05 -4,0.95" fill="#12b24c" stroke="#0f9a44" stroke-width="0.4" transform="translate(631.6 118.4) rotate(-8)"/><polygon points="-5.2,0 -4,-0.95 0.6,-1.05 0.2,-2.05 5.2,0 0.2,2.05 0.6,1.05 -4,0.95" fill="#12b24c" stroke="#0f9a44" stroke-width="0.4" transform="translate(612.5 131.9) rotate(-8)"/><polygon points="-5.2,0 -4,-0.95 0.6,-1.05 0.2,-2.05 5.2,0 0.2,2.05 0.6,1.05 -4,0.95" fill="#12b24c" stroke="#0f9a44" stroke-width="0.4" transform="translate(630.7 129.2) rotate(-8)"/><polygon points="-5.2,0 -4,-0.95 0.6,-1.05 0.2,-2.05 5.2,0 0.2,2.05 0.6,1.05 -4,0.95" fill="#12b24c" stroke="#0f9a44" stroke-width="0.4" transform="translate(617.8 138.6) rotate(-8)"/><polygon points="-5.2,0 -4,-0.95 0.6,-1.05 0.2,-2.05 5.2,0 0.2,2.05 0.6,1.05 -4,0.95" fill="#12b24c" stroke="#0f9a44" stroke-width="0.4" transform="translate(628.6 136.6) rotate(-8)"/><polygon points="-5.2,0 -4,-0.95 0.6,-1.05 0.2,-2.05 5.2,0 0.2,2.05 0.6,1.05 -4,0.95" fill="#12b24c" stroke="#0f9a44" stroke-width="0.4" transform="translate(621.9 139.4) rotate(-8)"/><polygon points="-5.2,0 -4,-0.95 0.6,-1.05 0.2,-2.05 5.2,0 0.2,2.05 0.6,1.05 -4,0.95" fill="#12b24c" stroke="#0f9a44" stroke-width="0.4" transform="translate(613.8 138.1) rotate(-8)"/><polygon points="502.37,127.02 636.06,107.89 634.48,105.29 645.2,108.2 635.73,114 636.52,111.06 502.83,130.18" fill="#3a3a3a"/><line x1="502.6" y1="128.6" x2="520.43" y2="126.05" stroke="#2b7f8c" stroke-width="3.2"/><line x1="613.83" y1="112.69" x2="631.65" y2="110.14" stroke="#2b7f8c" stroke-width="3.2"/><line x1="512.8" y1="170.2" x2="619" y2="155.2" stroke="#000" stroke-width="1.2"/><polyline points="613.13,153 619,155.2 613.97,158.94" fill="none" stroke="#000" stroke-width="1.2" stroke-linejoin="miter"/><polyline points="518.67,172.4 512.8,170.2 517.83,166.46" fill="none" stroke="#000" stroke-width="1.2" stroke-linejoin="miter"/><text x="563.8" y="158.6" text-anchor="middle" font-family='"Liberation Sans", sans-serif' font-size="13.5" fill="#111">λ</text><text x="624.2" y="84.6" font-family='"Liberation Sans", sans-serif' font-size="13.5" fill="#5c8f2c">k<tspan font-size="9" dy="2.6">0</tspan></text><text x="581.4" y="41" font-family='"Liberation Sans", sans-serif' font-weight="bold" font-size="13.8" fill="#7f7f7f" textLength="150.6" lengthAdjust="spacingAndGlyphs">Rotating Metasurface</text><text x="416" y="46.4" font-family='"Liberation Sans", sans-serif' font-weight="bold" font-size="32.8" fill="#000">(b)</text><line x1="667.2" y1="104.6" x2="671.8" y2="72.5" stroke="#000" stroke-width="1.3"/><polygon points="672.6,67.2 675.6,74.2 668.6,73.4" fill="#000"/><line x1="667.2" y1="104.6" x2="684.5" y2="114.2" stroke="#000" stroke-width="1.3" stroke-dasharray="3.4 2"/><polyline points="680.4,116.6 687.6,115.6 683.2,110.2" fill="none" stroke="#000" stroke-width="1.2"/><path d="M682.4 111 Q682.6 99.5 674.6 93.2" fill="none" stroke="#ee1c24" stroke-width="1.2" stroke-dasharray="2.4 1.4"/><polygon points="671.4,92.4 678.6,91.2 676.4,96.4" fill="#ee1c24"/><text x="684.8" y="99.2" font-family='"Liberation Sans", sans-serif' font-size="15.2" fill="#ee1c24">Ω<tspan font-style="italic">t</tspan></text><text x="661.2" y="180.9" font-family='"Liberation Serif", "DejaVu Serif", serif' font-weight="bold" font-style="italic" font-size="23.5" fill="#000" stroke="#000" stroke-width="0.3">e</text><text x="673.2" y="173" font-family='"Liberation Serif", "DejaVu Serif", serif' font-weight="bold" font-style="italic" font-size="15.5" fill="#000" stroke="#000" stroke-width="0.3" textLength="22.6" lengthAdjust="spacing">ilϕ</text><circle cx="704.4" cy="174.8" r="1.5" fill="#f0141e"/><text x="712.4" y="180.9" font-family='"Liberation Serif", "DejaVu Serif", serif' font-weight="bold" font-style="italic" font-size="23.5" fill="#f0141e" stroke="#f0141e" stroke-width="0.3">e</text><text x="724.4" y="173" font-family='"Liberation Serif", "DejaVu Serif", serif' font-weight="bold" font-style="italic" font-size="15.5" fill="#f0141e" stroke="#f0141e" stroke-width="0.3" textLength="28.2" lengthAdjust="spacing">ilΩt</text></g>
<defs><radialGradient id="hl1" cx="0.5" cy="0.5" r="0.5"><stop offset="0" stop-color="#b6ecfe" stop-opacity="0.95"/><stop offset="1" stop-color="#b6ecfe" stop-opacity="0"/></radialGradient><linearGradient id="wdg" x1="0" y1="0" x2="0" y2="1"><stop offset="0" stop-color="#6ab8f0"/><stop offset="0.45" stop-color="#5aaeee"/><stop offset="1" stop-color="#4aa2ea"/></linearGradient><linearGradient id="wdgb" x1="0" y1="0" x2="1" y2="1"><stop offset="0" stop-color="#8fc4ee"/><stop offset="1" stop-color="#a6d2f3"/></linearGradient><radialGradient id="hl2" cx="0.5" cy="0.5" r="0.5"><stop offset="0" stop-color="#dcf4ff" stop-opacity="0.95"/><stop offset="1" stop-color="#dcf4ff" stop-opacity="0"/></radialGradient></defs>
<g transform="translate(250 40) scale(0.205)"><path d="M55 260 C95 160 165 95 230 95 C290 95 340 115 370 138 C410 85 460 55 515 55 C600 55 690 130 770 270 C730 243 690 232 640 228 C610 290 565 370 545 440 C520 370 470 280 400 268 C340 272 300 350 283 482 C262 420 160 330 55 260Z" fill="#9ad6f7"/><path d="M55 260 C160 330 262 420 283 482 C288 430 298 385 312 350 C250 310 150 270 55 260Z" fill="#8fd0f6"/><path d="M368 140 C340 175 318 225 306 275 C292 335 283 410 282 484 C292 420 312 335 345 298 C360 281 378 270 400 268 C470 280 520 370 545 440 C515 345 450 228 368 140Z" fill="url(#wdg)"/><path d="M205 340 C245 385 270 430 282 484 C283 450 285 420 289 392 C265 370 235 352 205 340Z" fill="#5eaeee" opacity="0.75"/><path d="M590 183 L640 228 C610 290 565 370 545 440 C548 350 565 250 590 183Z" fill="#93d2f7"/><path d="M590 183 L640 228 L770 270 C730 250 650 215 590 183Z" fill="#8ccbf3"/><ellipse cx="195" cy="225" rx="95" ry="80" fill="url(#hl1)"/><ellipse cx="505" cy="215" rx="85" ry="85" fill="url(#hl1)"/><path d="M55 260 C95 160 165 95 230 95 C290 95 340 115 370 138 C410 85 460 55 515 55 C600 55 690 130 770 270" fill="none" stroke="#8ccdf5" stroke-width="3" stroke-opacity="0.8"/><ellipse cx="185" cy="178" rx="8" ry="10" fill="#149a48" transform="rotate(0 185 178)"/><ellipse cx="247" cy="152" rx="8" ry="10" fill="#149a48" transform="rotate(0 247 152)"/><ellipse cx="453" cy="135" rx="8" ry="10" fill="#149a48" transform="rotate(0 453 135)"/><ellipse cx="515" cy="110" rx="8" ry="10" fill="#149a48" transform="rotate(0 515 110)"/><polygon points="-17.5,0 0,-8 17.5,0 0,8" fill="#149a48" transform="translate(313 152.5) rotate(90)"/><polygon points="-18,0 0,-8 18,0 0,8" fill="#149a48" transform="translate(582 110) rotate(90)"/><polygon points="-23.02,0 0,-8 23.02,0 0,8" fill="#149a48" transform="translate(135 229) rotate(55.62)"/><polygon points="-23.05,0 0,-8 23.05,0 0,8" fill="#149a48" transform="translate(360 252.5) rotate(49.4)"/><polygon points="-23.05,0 0,-8 23.05,0 0,8" fill="#149a48" transform="translate(630 210.5) rotate(49.4)"/><polygon points="-21.54,0 0,-7 21.54,0 0,7" fill="#149a48" transform="translate(380 180) rotate(68.2)"/><polygon points="-24.46,-4.07 8.18,-5.18 5.22,-11.47 24.46,0 5.22,11.47 8.18,5.18 -24.46,4.07" fill="#17b03c" stroke="#0c8a2e" stroke-width="1.5" transform="translate(96 293.5) rotate(-130.86)"/><polygon points="-28.73,-4.07 12.45,-5.18 9.49,-11.47 28.73,0 9.49,11.47 12.45,5.18 -28.73,4.07" fill="#17b03c" stroke="#0c8a2e" stroke-width="1.5" transform="translate(223 317.5) rotate(-58.52)"/><polygon points="-26.4,-4.07 10.12,-5.18 7.16,-11.47 26.4,0 7.16,11.47 10.12,5.18 -26.4,4.07" fill="#17b03c" stroke="#0c8a2e" stroke-width="1.5" transform="translate(259 373) rotate(-52.7)"/><polygon points="-27.93,-4.07 11.65,-5.18 8.69,-11.47 27.93,0 8.69,11.47 11.65,5.18 -27.93,4.07" fill="#17b03c" stroke="#0c8a2e" stroke-width="1.5" transform="translate(323 377.5) rotate(44.27)"/><polygon points="-26.2,-4.07 9.92,-5.18 6.96,-11.47 26.2,0 6.96,11.47 9.92,5.18 -26.2,4.07" fill="#17b03c" stroke="#0c8a2e" stroke-width="1.5" transform="translate(335.5 322.5) rotate(48.09)"/><polygon points="-35.69,-4.07 19.41,-5.18 16.45,-11.47 35.69,0 16.45,11.47 19.41,5.18 -35.69,4.07" fill="#17b03c" stroke="#0c8a2e" stroke-width="1.5" transform="translate(297 421) rotate(11.31)"/><polygon points="-28.23,-4.07 11.95,-5.18 8.99,-11.47 28.23,0 8.99,11.47 11.95,5.18 -28.23,4.07" fill="#17b03c" stroke="#0c8a2e" stroke-width="1.5" transform="translate(294 421) rotate(-22.93)"/><polygon points="-20.26,-4.07 3.98,-5.18 1.02,-11.47 20.26,0 1.02,11.47 3.98,5.18 -20.26,4.07" fill="#17b03c" stroke="#0c8a2e" stroke-width="1.5" transform="translate(380.5 177.5) rotate(-74.25)"/><polygon points="-27.06,-4.07 10.78,-5.18 7.82,-11.47 27.06,0 7.82,11.47 10.78,5.18 -27.06,4.07" fill="#17b03c" stroke="#0c8a2e" stroke-width="1.5" transform="translate(438.5 224) rotate(-73.91)"/><polygon points="-27.5,-4.07 11.22,-5.18 8.26,-11.47 27.5,0 8.26,11.47 11.22,5.18 -27.5,4.07" fill="#17b03c" stroke="#0c8a2e" stroke-width="1.5" transform="translate(489.5 277.5) rotate(-62.97)"/><polygon points="-28.29,-4.07 12.01,-5.18 9.05,-11.47 28.29,0 9.05,11.47 12.01,5.18 -28.29,4.07" fill="#17b03c" stroke="#0c8a2e" stroke-width="1.5" transform="translate(527.5 333.5) rotate(-46.43)"/><polygon points="-27.8,-4.07 11.52,-5.18 8.56,-11.47 27.8,0 8.56,11.47 11.52,5.18 -27.8,4.07" fill="#17b03c" stroke="#0c8a2e" stroke-width="1.5" transform="translate(590 340) rotate(37.69)"/><polygon points="-25.87,-4.07 9.59,-5.18 6.63,-11.47 25.87,0 6.63,11.47 9.59,5.18 -25.87,4.07" fill="#17b03c" stroke="#0c8a2e" stroke-width="1.5" transform="translate(607.5 285) rotate(41.08)"/><polygon points="-34.56,-4.07 18.28,-5.18 15.32,-11.47 34.56,0 15.32,11.47 18.28,5.18 -34.56,4.07" fill="#17b03c" stroke="#0c8a2e" stroke-width="1.5" transform="translate(567.5 380) rotate(3.32)"/><polygon points="-27.73,-4.07 11.45,-5.18 8.49,-11.47 27.73,0 8.49,11.47 11.45,5.18 -27.73,4.07" fill="#17b03c" stroke="#0c8a2e" stroke-width="1.5" transform="translate(565 380) rotate(-25.64)"/><polygon points="-22.46,-4.07 6.18,-5.18 3.22,-11.47 22.46,0 3.22,11.47 6.18,5.18 -22.46,4.07" fill="#17b03c" stroke="#0c8a2e" stroke-width="1.5" transform="translate(648.5 140) rotate(-78.44)"/><polygon points="-25.62,-4.07 9.34,-5.18 6.38,-11.47 25.62,0 6.38,11.47 9.34,5.18 -25.62,4.07" fill="#17b03c" stroke="#0c8a2e" stroke-width="1.5" transform="translate(708.5 182.5) rotate(-72.98)"/><polygon points="-29.07,-4.07 12.79,-5.18 9.83,-11.47 29.07,0 9.83,11.47 12.79,5.18 -29.07,4.07" fill="#17b03c" stroke="#0c8a2e" stroke-width="1.5" transform="translate(760 234) rotate(-63.43)"/></g>
<polygon points="389.14,85.12 409.25,82.07 407.63,79.38 418.4,82.4 409.01,88.48 409.76,85.43 389.66,88.48" fill="#3a3a3a"/><line x1="389.4" y1="86.8" x2="399.84" y2="85.22" stroke="#2b6f8c" stroke-width="3.4"/><line x1="302.3" y1="143.9" x2="408.9" y2="128.8" stroke="#000" stroke-width="1.2"/><polyline points="403.03,126.6 408.9,128.8 403.88,132.54" fill="none" stroke="#000" stroke-width="1.2" stroke-linejoin="miter"/><polyline points="308.17,146.1 302.3,143.9 307.32,140.16" fill="none" stroke="#000" stroke-width="1.2" stroke-linejoin="miter"/><text x="355" y="134.2" text-anchor="middle" font-family='"Liberation Sans", sans-serif' font-size="13.5" fill="#111">λ</text>
<g transform="translate(700 30) scale(0.2027)"><path d="M80 482 C85 350 110 220 135 158 C170 120 220 98 275 98 C320 98 355 115 378 135 C410 95 450 68 495 68 C570 68 650 130 735 287 C700 262 665 248 640 240 C610 290 560 380 540 452 C520 380 470 295 415 290 C360 292 330 380 315 490 C300 420 250 325 190 320 C140 322 105 400 88 478Z" fill="#badef6"/><path d="M378 135 C350 175 328 235 322 330 C345 300 380 290 415 290 C470 295 520 380 540 452 C530 360 470 230 378 135Z" fill="url(#wdgb)"/><path d="M135 158 C125 200 118 260 122 345 C145 325 165 320 190 320 C250 325 300 420 315 490 C305 390 240 250 135 158Z" fill="url(#wdgb)"/><path d="M135 158 C110 220 85 350 80 482 L88 478 C95 420 108 370 122 345 C118 260 125 200 135 158Z" fill="#a9d3f3"/><path d="M562 195 L640 240 C610 290 560 380 540 452 C538 360 548 260 562 195Z" fill="#a6d1f2"/><path d="M562 195 L640 240 L735 287 C700 255 620 215 562 195Z" fill="#9ecbee"/><ellipse cx="245" cy="225" rx="75" ry="85" fill="url(#hl2)"/><ellipse cx="480" cy="205" rx="80" ry="85" fill="url(#hl2)"/><ellipse cx="292" cy="153" rx="9" ry="10" fill="#149a48" transform="rotate(0 292 153)"/><ellipse cx="529" cy="119" rx="9" ry="10" fill="#149a48" transform="rotate(0 529 119)"/><polygon points="-17.56,0 0,-7 17.56,0 0,7" fill="#149a48" transform="translate(126.5 192.5) rotate(85.1)"/><polygon points="-16.77,0 0,-7 16.77,0 0,7" fill="#149a48" transform="translate(224.5 183) rotate(63.43)"/><polygon points="-15.44,0 0,-7 15.44,0 0,7" fill="#149a48" transform="translate(462.5 141.5) rotate(60.95)"/><polygon points="-25.74,0 0,-7 25.74,0 0,7" fill="#3f9a78" transform="translate(172.5 247.5) rotate(60.95)"/><polygon points="-25.74,0 0,-7 25.74,0 0,7" fill="#3f9a78" transform="translate(407.5 202.5) rotate(60.95)"/><polygon points="-30.96,0 0,-7 30.96,0 0,7" fill="#3f9a78" transform="translate(599 231.5) rotate(58.88)"/><polygon points="-33.81,-4.07 17.53,-5.18 14.57,-11.47 33.81,0 14.57,11.47 17.53,5.18 -33.81,4.07" fill="#17b03c" stroke="#0c8a2e" stroke-width="1.5" transform="translate(139 328.5) rotate(51.6)"/><polygon points="-33.42,-4.07 17.14,-5.18 14.18,-11.47 33.42,0 14.18,11.47 17.14,5.18 -33.42,4.07" fill="#17b03c" stroke="#0c8a2e" stroke-width="1.5" transform="translate(124 404) rotate(38.93)"/><polygon points="-30.37,-4.07 14.09,-5.18 11.13,-11.47 30.37,0 11.13,11.47 14.09,5.18 -30.37,4.07" fill="#17b03c" stroke="#0c8a2e" stroke-width="1.5" transform="translate(116.5 452.5) rotate(20.22)"/><polygon points="-26.48,-4.07 10.2,-5.18 7.24,-11.47 26.48,0 7.24,11.47 10.2,5.18 -26.48,4.07" fill="#17b03c" stroke="#0c8a2e" stroke-width="1.5" transform="translate(198 229) rotate(-79.11)"/><polygon points="-31.05,-4.07 14.77,-5.18 11.81,-11.47 31.05,0 11.81,11.47 14.77,5.18 -31.05,4.07" fill="#17b03c" stroke="#0c8a2e" stroke-width="1.5" transform="translate(258 290) rotate(-75.07)"/><polygon points="-17.56,-4.07 1.28,-5.18 -1.68,-11.47 17.56,0 -1.68,11.47 1.28,5.18 -17.56,4.07" fill="#17b03c" stroke="#0c8a2e" stroke-width="1.5" transform="translate(364.5 162.5) rotate(-85.1)"/><polygon points="-26.73,-4.07 10.45,-5.18 7.49,-11.47 26.73,0 7.49,11.47 10.45,5.18 -26.73,4.07" fill="#17b03c" stroke="#0c8a2e" stroke-width="1.5" transform="translate(433.5 201.5) rotate(-82.48)"/><polygon points="-29.41,-4.07 13.13,-5.18 10.17,-11.47 29.41,0 10.17,11.47 13.13,5.18 -29.41,4.07" fill="#17b03c" stroke="#0c8a2e" stroke-width="1.5" transform="translate(369 282) rotate(54.69)"/><polygon points="-30.86,-4.07 14.58,-5.18 11.62,-11.47 30.86,0 11.62,11.47 14.58,5.18 -30.86,4.07" fill="#17b03c" stroke="#0c8a2e" stroke-width="1.5" transform="translate(304 360.5) rotate(-63.02)"/><polygon points="-31.14,-4.07 14.86,-5.18 11.9,-11.47 31.14,0 11.9,11.47 14.86,5.18 -31.14,4.07" fill="#17b03c" stroke="#0c8a2e" stroke-width="1.5" transform="translate(350 361) rotate(42.4)"/><polygon points="-31.6,-4.07 15.32,-5.18 12.36,-11.47 31.6,0 12.36,11.47 15.32,5.18 -31.6,4.07" fill="#17b03c" stroke="#0c8a2e" stroke-width="1.5" transform="translate(336.5 422.5) rotate(-4.54)"/><polygon points="-26.87,-4.07 10.59,-5.18 7.63,-11.47 26.87,0 7.63,11.47 10.59,5.18 -26.87,4.07" fill="#17b03c" stroke="#0c8a2e" stroke-width="1.5" transform="translate(331 417) rotate(-45)"/><polygon points="-31.89,-4.07 15.61,-5.18 12.65,-11.47 31.89,0 12.65,11.47 15.61,5.18 -31.89,4.07" fill="#17b03c" stroke="#0c8a2e" stroke-width="1.5" transform="translate(490.5 269) rotate(-76.4)"/><polygon points="-30.79,-4.07 14.51,-5.18 11.55,-11.47 30.79,0 11.55,11.47 14.51,5.18 -30.79,4.07" fill="#17b03c" stroke="#0c8a2e" stroke-width="1.5" transform="translate(531.5 334) rotate(-57.6)"/><polygon points="-32.22,-4.07 15.94,-5.18 12.98,-11.47 32.22,0 12.98,11.47 15.94,5.18 -32.22,4.07" fill="#17b03c" stroke="#0c8a2e" stroke-width="1.5" transform="translate(578.5 314) rotate(48.14)"/><polygon points="-33.72,-4.07 17.44,-5.18 14.48,-11.47 33.72,0 14.48,11.47 17.44,5.18 -33.72,4.07" fill="#17b03c" stroke="#0c8a2e" stroke-width="1.5" transform="translate(564.5 389) rotate(-15.48)"/><polygon points="-25.5,-4.07 9.22,-5.18 6.26,-11.47 25.5,0 6.26,11.47 9.22,5.18 -25.5,4.07" fill="#17b03c" stroke="#0c8a2e" stroke-width="1.5" transform="translate(567.5 380) rotate(28.07)"/><polygon points="-18.53,-4.07 2.25,-5.18 -0.71,-11.47 18.53,0 -0.71,11.47 2.25,5.18 -18.53,4.07" fill="#17b03c" stroke="#0c8a2e" stroke-width="1.5" transform="translate(601 133.5) rotate(-86.91)"/><polygon points="-27.79,-4.07 11.51,-5.18 8.55,-11.47 27.79,0 8.55,11.47 11.51,5.18 -27.79,4.07" fill="#17b03c" stroke="#0c8a2e" stroke-width="1.5" transform="translate(672 177.5) rotate(-81.72)"/><polygon points="-32.5,-4.07 16.22,-5.18 13.26,-11.47 32.5,0 13.26,11.47 16.22,5.18 -32.5,4.07" fill="#17b03c" stroke="#0c8a2e" stroke-width="1.5" transform="translate(725.5 245) rotate(-67.38)"/></g>
<polygon points="830.57,77.32 850.26,74.65 848.66,71.74 860.4,75 849.94,81.26 850.72,78.02 831.03,80.68" fill="#3a3a3a"/><line x1="830.8" y1="79" x2="841.46" y2="77.56" stroke="#2b5f86" stroke-width="3.4"/><line x1="755.6" y1="134" x2="841.4" y2="122.2" stroke="#000" stroke-width="1.1"/><polyline points="835.54,119.98 841.4,122.2 836.36,125.92" fill="none" stroke="#000" stroke-width="1.1" stroke-linejoin="miter"/><polyline points="761.46,136.22 755.6,134 760.64,130.28" fill="none" stroke="#000" stroke-width="1.1" stroke-linejoin="miter"/><line x1="735.4" y1="145.6" x2="842" y2="130.8" stroke="#000" stroke-width="1.1" stroke-dasharray="4 2.4"/><polyline points="836.14,128.58 842,130.8 836.96,134.53" fill="none" stroke="#000" stroke-width="1.1" stroke-linejoin="miter"/><polyline points="741.26,147.82 735.4,145.6 740.44,141.87" fill="none" stroke="#000" stroke-width="1.1" stroke-linejoin="miter"/><text x="797.4" y="120.4" text-anchor="middle" font-family='"Liberation Sans", sans-serif' font-size="13.5" fill="#111">λ’</text>
<defs><linearGradient id="body" x1="0" y1="0" x2="0" y2="1"><stop offset="0" stop-color="#6e6c69"/><stop offset="0.25" stop-color="#807d79"/><stop offset="0.6" stop-color="#8b8883"/><stop offset="0.85" stop-color="#a29f98"/><stop offset="1" stop-color="#b0ada5"/></linearGradient><linearGradient id="bodyx" x1="0" y1="0" x2="1" y2="0"><stop offset="0" stop-color="#000" stop-opacity="0"/><stop offset="0.8" stop-color="#000" stop-opacity="0.02"/><stop offset="1" stop-color="#000" stop-opacity="0.16"/></linearGradient><radialGradient id="blu" cx="0.5" cy="0.5" r="0.5"><stop offset="0" stop-color="#62bff5"/><stop offset="0.7" stop-color="#4fb5f3"/><stop offset="1" stop-color="#44aef0"/></radialGradient><linearGradient id="beam" x1="0" y1="0" x2="1" y2="0"><stop offset="0" stop-color="#cdf9fe"/><stop offset="0.75" stop-color="#c0f4fd"/><stop offset="1" stop-color="#aeeafb"/></linearGradient><linearGradient id="horn" x1="0" y1="0" x2="0" y2="1"><stop offset="0" stop-color="#1f1f1f"/><stop offset="0.5" stop-color="#2c2c2c"/><stop offset="0.72" stop-color="#3a3a3a"/><stop offset="1" stop-color="#1c1c1c"/></linearGradient><linearGradient id="cap" x1="0" y1="0" x2="0" y2="1"><stop offset="0" stop-color="#8c8c8c"/><stop offset="0.15" stop-color="#d8d8d8"/><stop offset="0.45" stop-color="#b4b4b4"/><stop offset="0.8" stop-color="#8a8a8a"/><stop offset="0.93" stop-color="#c8c8c8"/><stop offset="1" stop-color="#777"/></linearGradient><linearGradient id="rarr" x1="0" y1="0" x2="1" y2="0"><stop offset="0" stop-color="#69747a"/><stop offset="0.5" stop-color="#7b868b"/><stop offset="1" stop-color="#8e9a9f"/></linearGradient><linearGradient id="grn" x1="0" y1="0" x2="0" y2="1"><stop offset="0" stop-color="#8cc99e"/><stop offset="0.6" stop-color="#97d3a8"/><stop offset="1" stop-color="#86c898"/></linearGradient><linearGradient id="tintfade" gradientUnits="userSpaceOnUse" x1="278" y1="0" x2="304" y2="0"><stop offset="0" stop-color="#b4eefc" stop-opacity="0.75"/><stop offset="1" stop-color="#c4f5fd" stop-opacity="0"/></linearGradient><linearGradient id="grnc" x1="0" y1="0" x2="0" y2="1"><stop offset="0" stop-color="#95d0a6"/><stop offset="0.55" stop-color="#86c498"/><stop offset="1" stop-color="#8ccb9e"/></linearGradient><clipPath id="ringclip"><ellipse cx="310.5" cy="365.3" rx="30.4" ry="88.4"/></clipPath></defs>
<g id="panelc"><g transform="translate(380 260) scale(0.29612)"><path d="M-40 128 C60 135 120 175 165 228 C220 160 300 120 385 120 C460 120 530 150 580 205 C620 165 680 130 735 118 L780 520 C740 450 680 330 600 315 C520 325 435 420 385 542 C335 445 250 345 180 338 C130 340 80 375 50 410 L-40 440Z" fill="url(#grn)"/><path d="M165 228 C250 320 335 440 380 540 C330 440 250 345 180 338 C130 340 80 375 50 410 C85 340 130 270 165 228Z" fill="#85c397"/><path d="M-40 128 C60 135 120 175 165 228 C130 270 85 340 50 410 L-40 440Z" fill="#9dd3ab"/><path d="M580 205 C660 290 745 430 780 520 C740 450 680 330 600 315 C560 320 520 340 497 358 C520 300 550 245 580 205Z" fill="#85c397"/><path d="M580 205 C620 165 680 130 735 118 L780 520 C745 430 660 290 580 205Z" fill="#9ed4ac"/><path d="M165 228 C220 160 300 120 385 120 C460 120 530 150 580 205 C550 245 520 300 497 358 C440 420 400 490 380 540 C335 440 250 320 165 228Z" fill="#8fcca1"/><path d="M165 228 C220 160 300 120 385 120 C460 120 530 150 580 205 C550 245 520 300 497 358 C440 420 400 490 380 540 C335 440 250 320 165 228Z" fill="url(#grnc)"/></g><rect x="118" y="205.8" width="161.6" height="93.7" fill="#fff" stroke="#222" stroke-width="1.7" stroke-dasharray="7 4.2"/><g transform="translate(125 205) scale(0.1025)"><polygon points="205,720 640,358 790,350 350,715" fill="#6a6863"/><polygon points="190,736 350,715 790,350 796,359 356,730 196,747" fill="#b7b4ab"/><polygon points="150,575 300,548 640,330 646,360 205,722" fill="#a7a49b"/><polygon points="35,425 250,388 300,548 150,575 205,722 190,737" fill="#8b8881"/><polygon points="35,425 515,100 712,62 250,388" fill="#bdbab1"/><polygon points="250,388 712,62 748,205 640,330 300,548" fill="#b6b3a9"/><polygon points="272,408 370,340 395,445 300,510" fill="#3b3a36"/><polygon points="309,461.5 381.25,387.25 395,445 300,510 291.6,479.4" fill="#5b5954"/><polygon points="344.5,451.5 397,439 403,467 351.5,485.5" fill="#b6b3a9"/><polygon points="395,320 490,255 512,350 420,415" fill="#3b3a36"/><polygon points="431.25,371.75 499.9,297.75 512,350 420,415 412.5,386.5" fill="#5b5954"/><polygon points="463,356.5 514,344 520,372 470,390.5" fill="#b6b3a9"/><polygon points="508,240 600,178 622,270 532,332" fill="#3b3a36"/><polygon points="544,291 609.9,219.4 622,270 532,332 524.8,304.4" fill="#5b5954"/><polygon points="574,275 624,264 630,292 581,309" fill="#b6b3a9"/><polygon points="618,165 705,105 727,200 642,258" fill="#3b3a36"/><polygon points="654,216.25 714.9,147.75 727,200 642,258 634.8,230.1" fill="#5b5954"/><polygon points="681.5,203 729,194 735,222 688.5,237" fill="#b6b3a9"/></g><g transform="translate(120 205) scale(0.18223)"><polygon points="428,442 490,384 542,402 525,476" fill="#8b8b88"/><polygon points="490,384 542,402 538,420 492,404" fill="#a3a39f"/><polygon points="440,265 690,65 822,120 590,330" fill="#d9d6cc"/><polygon points="590,330 822,120 792,222 560,492" fill="#d2cdbb"/><polygon points="440,265 590,330 560,492 522,476 537,398 482,376 433,350" fill="#c6c3b9"/></g><path d="M171 315.4 L286 302 L306 300 L306 433 L290 429.4 L173.3 422.2Z" fill="url(#beam)"/><g transform="translate(20 290) scale(0.25056)"><path d="M100 228 L158 208 C182 225 194 290 192 345 C192 400 186 440 170 462 L104 446Z" fill="url(#cap)"/><ellipse cx="88" cy="338" rx="27" ry="110" fill="#3b3b3b" transform="rotate(3 88 338)"/><ellipse cx="86" cy="338" rx="20" ry="95" fill="#2c2c2c" transform="rotate(3 88 338)"/><path d="M190 275 C330 250 460 170 505 85 C515 60 530 45 545 45 C600 60 637 200 637 320 C637 450 605 580 572 592 C550 595 525 570 510 530 C470 440 330 400 190 385Z" fill="url(#horn)"/><clipPath id="hornclip"><path d="M190 275 C330 250 460 170 505 85 C515 60 530 45 545 45 C600 60 637 200 637 320 C637 450 605 580 572 592 C550 595 525 570 510 530 C470 440 330 400 190 385Z"/></clipPath><path d="M200 372 C330 385 450 420 515 525 L500 540 C450 450 330 415 200 392Z" fill="#8c8c8c" opacity="0.6" clip-path="url(#hornclip)"/><path d="M545 45 C600 60 637 200 637 320 C637 450 605 580 572 592 C600 540 615 440 615 320 C615 200 590 90 545 45Z" fill="#1a1a1a"/></g><path d="M294.5 270 C293.5 248 306 224 327 222.6 C346 222 361 236 364.6 258.4 L370.3 258.9 L360.2 269.4 L347.6 258.6 L353.8 258.4 C350.5 243.5 340 232.4 328.5 232.4 C316 232.4 307.5 250 307 270.6Z" fill="url(#rarr)"/><path d="M300.6 270.4 C300.8 251 311 231.5 326.5 229.4 L328.5 232.4 C316 232.4 307.5 250 307 270.6Z" fill="#596267" opacity="0.85"/><path d="M310.5 276.9 L363.9 275.5 A31 87 0 0 1 363.9 449.5 L310.5 453.7Z" fill="url(#body)"/><path d="M310.5 276.9 L363.9 275.5 A31 87 0 0 1 363.9 449.5 L310.5 453.7Z" fill="url(#bodyx)"/><ellipse cx="310.5" cy="365.3" rx="30.4" ry="88.4" fill="#68727a"/><g transform="translate(309.6 365.6) scale(0.344 1)"><circle r="77.5" fill="none" stroke="#2d353b" stroke-width="9.5" stroke-dasharray="13.4 3.6"/><circle r="71" fill="#747f87"/></g><ellipse cx="304" cy="366.6" rx="23.6" ry="67" fill="url(#blu)"/><ellipse cx="304" cy="366.6" rx="19.35" ry="54.94" fill="none" stroke="#4fb2f0" stroke-opacity="0.5" stroke-width="1.6" stroke-dasharray="2.5 1.5"/><ellipse cx="304" cy="366.6" rx="14.16" ry="40.2" fill="none" stroke="#4fb2f0" stroke-opacity="0.5" stroke-width="1.6" stroke-dasharray="2.5 1.5"/><ellipse cx="304" cy="366.6" rx="8.97" ry="25.46" fill="none" stroke="#4fb2f0" stroke-opacity="0.45" stroke-width="1.6" stroke-dasharray="2.5 1.5"/><path d="M270 303.5 L304 299.6 A23.6 67 0 0 1 304 433.6 L270 427.5Z" fill="#a2e4fb" opacity="0.62" clip-path="url(#ringclip)"/><path d="M270 303.5 L304 299.6 L304 433.6 L270 427.5Z" fill="url(#tintfade)" clip-path="url(#ringclip)"/><line x1="279.6" y1="205.8" x2="314.5" y2="297" stroke="#222" stroke-width="1.5" stroke-dasharray="5 3"/><line x1="279.6" y1="299.5" x2="309" y2="299.5" stroke="#222" stroke-width="1.5" stroke-dasharray="7 4.2"/><path d="M305.2 278 L315.6 279.6 L317.6 286.6 L314 298.6 L309 300.6 Z" fill="none" stroke="#111" stroke-width="1.3" stroke-dasharray="1.6 1.4"/><path d="M403.6 420 L476.4 443.6 L631 443.6" fill="none" stroke="#222" stroke-width="1.8" stroke-dasharray="7.5 4.5"/><text x="21.1" y="231" font-family='"Liberation Sans", sans-serif' font-weight="bold" font-size="32.8" fill="#000">(c)</text><text x="372.6" y="247.8" font-family='"Liberation Sans", sans-serif' font-weight="bold" font-size="22.8" fill="#6f7a80" textLength="111" lengthAdjust="spacingAndGlyphs">Rotation <tspan font-family='"Liberation Serif", "DejaVu Serif", serif' font-style="italic">Ω</tspan></text><text x="296" y="484.3" font-family='"Liberation Sans", sans-serif' font-weight="bold" font-size="23" fill="#7d7872" textLength="131" lengthAdjust="spacingAndGlyphs">Metasurface</text><text x="34.9" y="451.1" font-family='"Liberation Sans", sans-serif' font-weight="bold" font-size="22.9" fill="#222" textLength="139.4" lengthAdjust="spacingAndGlyphs">Loudspeaker</text><text x="231" y="394.6" font-family='"Liberation Serif", "DejaVu Serif", serif' font-weight="bold" font-style="italic" font-size="23.5" fill="#686c6e" textLength="22" lengthAdjust="spacingAndGlyphs">f<tspan font-size="16.5" dy="3.6" dx="0.6" font-style="normal">0</tspan></text><text x="508.6" y="394.5" font-family='"Liberation Serif", "DejaVu Serif", serif' font-weight="bold" font-style="italic" font-size="23.5" fill="#5f6b70" textLength="77.5" lengthAdjust="spacingAndGlyphs">f<tspan font-size="16.5" dy="3.6" dx="0.6" font-style="normal">0</tspan><tspan dy="-3.6" font-weight="normal" font-style="normal"> + Δ</tspan>f</text></g>
<g id="inset"><rect x="631.3" y="258.2" width="234.1" height="210.7" fill="none" stroke="#222" stroke-width="1.8" stroke-dasharray="6.4 4"/><ellipse cx="733.6" cy="383.8" rx="51.4" ry="82.2" fill="none" stroke="#000" stroke-width="1.9" transform="rotate(13.5 733.6 383.8)"/><line x1="732.55" y1="383.7" x2="747.83" y2="275.03" stroke="#ee1c24" stroke-width="1.3" stroke-dasharray="6 2.6"/><polygon points="748.12,269.68 751.06,277.91 748.12,276.15 744.89,277.32" fill="#ee1c24"/><line x1="732.55" y1="383.7" x2="773.98" y2="273.5" stroke="#68b43c" stroke-width="1.3" stroke-dasharray="6 2.6"/><polyline points="770.16,277.91 774.86,272.03 775.45,279.68" fill="none" stroke="#68b43c" stroke-width="1.1"/><line x1="732.55" y1="383.7" x2="812.48" y2="355.2" stroke="#000" stroke-width="1.8"/><polyline points="805.15,353.99 812.48,355.2 807.56,360.77" fill="none" stroke="#000" stroke-width="1.8" stroke-linejoin="miter"/><line x1="732.55" y1="383.7" x2="846.86" y2="429.54" stroke="#000" stroke-width="2.0"/><polyline points="841.85,423.22 846.86,429.54 838.87,430.65" fill="none" stroke="#000" stroke-width="2.0" stroke-linejoin="miter"/><polyline points="742.83,380.17 752.82,384 743.42,387.82" fill="none" stroke="#555" stroke-width="0.9"/><path d="M763.78 372.45 C763.78 356.14 756.91 341.55 743.69 338.8" fill="none" stroke="#ee1c24" stroke-width="1.5" stroke-dasharray="1.6 1.3"/><polygon points="740.26,338.45 744.38,336.22 744.03,341.03" fill="#ee1c24"/><path d="M749.18 377.08 C749.53 370.73 748.33 365.58 745.41 362.66" fill="none" stroke="#68b43c" stroke-width="1.4" stroke-dasharray="3 1.3 1 1.3"/><polygon points="743.18,360.43 747.12,361.29 744.38,364.38" fill="#68b43c"/><line x1="755.19" y1="326.27" x2="744.03" y2="324.89" stroke="#000" stroke-width="1.6" stroke-dasharray="1.3 1.1"/><polygon points="740.6,324.38 745.06,322.49 744.55,326.95" fill="#000"/><text x="749.3" y="293.78" text-anchor="start" font-family='"Liberation Serif", "DejaVu Serif", serif' font-weight="bold" font-style="italic" font-size="16.5" fill="#000" textLength="17" lengthAdjust="spacingAndGlyphs"><tspan font-style="italic">Ω</tspan>t</text><text x="765.17" y="344.32" text-anchor="middle" font-family='"Liberation Serif", "DejaVu Serif", serif' font-weight="bold" font-style="italic" font-size="19.5" fill="#ee1c24">ϕ</text><text x="756.94" y="371.65" text-anchor="middle" font-family='"Liberation Serif", "DejaVu Serif", serif' font-weight="bold" font-style="italic" font-size="17.5" fill="#68b43c">ϕ′</text><text x="793.38" y="343.74" text-anchor="start" font-family='"Liberation Serif", "DejaVu Serif", serif' font-weight="bold" font-style="italic" font-size="16.5" fill="#000" textLength="35.6" lengthAdjust="spacingAndGlyphs">r<tspan font-weight="normal" font-style="normal">(</tspan>r′<tspan font-weight="normal" font-style="normal">)</tspan></text><text x="799.25" y="438.95" text-anchor="start" font-family='"Liberation Serif", "DejaVu Serif", serif' font-weight="bold" font-style="italic" font-size="16.5" fill="#000" textLength="33.6" lengthAdjust="spacingAndGlyphs">z<tspan font-weight="normal" font-style="normal">(</tspan>z′<tspan font-weight="normal" font-style="normal">)</tspan></text><text x="724.91" y="393.4" text-anchor="middle" font-family='"Liberation Serif", "DejaVu Serif", serif' font-weight="normal" font-style="normal" font-size="14" fill="#000">O</text></g>
<g id="plot"><clipPath id="plotclip"><rect x="112.2" y="539.6" width="419.8" height="229.3"/></clipPath><line clip-path="url(#plotclip)" x1="112.18" y1="697.24" x2="532.02" y2="611.26" stroke="#f24a4a" stroke-width="1.9"/><line clip-path="url(#plotclip)" x1="112.18" y1="740.24" x2="532.02" y2="568.26" stroke="#000" stroke-width="1.9"/><line clip-path="url(#plotclip)" x1="112.18" y1="783.23" x2="532.02" y2="525.27" stroke="#1414f0" stroke-width="1.9"/><circle cx="184.39" cy="682.45" r="3.5" fill="#f01414"/><circle cx="211.54" cy="676.89" r="3.5" fill="#f01414"/><circle cx="238.13" cy="671.45" r="3.5" fill="#f01414"/><circle cx="266.12" cy="665.72" r="3.5" fill="#f01414"/><circle cx="294.11" cy="659.98" r="3.5" fill="#f01414"/><circle cx="322.1" cy="654.25" r="3.5" fill="#f01414"/><circle cx="350.09" cy="648.52" r="3.5" fill="#f01414"/><circle cx="378.08" cy="642.78" r="3.5" fill="#f01414"/><circle cx="406.07" cy="637.05" r="3.5" fill="#f01414"/><circle cx="432.66" cy="631.61" r="3.5" fill="#f01414"/><circle cx="459.81" cy="626.05" r="3.5" fill="#f01414"/><rect x="181.29" y="707.56" width="6.2" height="6.2" fill="#000"/><rect x="208.44" y="696.44" width="6.2" height="6.2" fill="#000"/><rect x="235.03" y="685.54" width="6.2" height="6.2" fill="#000"/><rect x="263.02" y="674.08" width="6.2" height="6.2" fill="#000"/><rect x="291.01" y="662.62" width="6.2" height="6.2" fill="#000"/><rect x="319" y="651.15" width="6.2" height="6.2" fill="#000"/><rect x="346.99" y="639.68" width="6.2" height="6.2" fill="#000"/><rect x="374.98" y="628.22" width="6.2" height="6.2" fill="#000"/><rect x="402.97" y="616.75" width="6.2" height="6.2" fill="#000"/><rect x="429.56" y="605.86" width="6.2" height="6.2" fill="#000"/><rect x="456.71" y="594.74" width="6.2" height="6.2" fill="#000"/><polygon points="184.39,734.26 180.29,741.56 188.49,741.56" fill="#1010f0"/><polygon points="211.54,717.58 207.44,724.88 215.64,724.88" fill="#1010f0"/><polygon points="238.13,701.24 234.03,708.54 242.23,708.54" fill="#1010f0"/><polygon points="266.12,684.04 262.02,691.35 270.22,691.35" fill="#1010f0"/><polygon points="294.11,666.85 290.01,674.15 298.21,674.15" fill="#1010f0"/><polygon points="322.1,649.65 318,656.95 326.2,656.95" fill="#1010f0"/><polygon points="350.09,632.45 345.99,639.75 354.19,639.75" fill="#1010f0"/><polygon points="378.08,615.25 373.98,622.56 382.18,622.56" fill="#1010f0"/><polygon points="406.07,598.06 401.97,605.36 410.17,605.36" fill="#1010f0"/><polygon points="432.66,581.72 428.56,589.02 436.76,589.02" fill="#1010f0"/><polygon points="459.81,565.04 455.71,572.34 463.91,572.34" fill="#1010f0"/><rect x="112.2" y="539.6" width="419.8" height="229.3" fill="none" stroke="#000" stroke-width="1.1"/><path d="M182.15 768.9v-6.4M182.15 539.6v6.4M252.13 768.9v-3.5M252.13 539.6v3.5M322.1 768.9v-6.4M322.1 539.6v6.4M392.08 768.9v-3.5M392.08 539.6v3.5M462.05 768.9v-6.4M462.05 539.6v6.4M112.2 740.24h3.5M532 740.24h-3.5M112.2 711.58h6.4M532 711.58h-6.4M112.2 682.91h3.5M532 682.91h-3.5M112.2 654.25h6.4M532 654.25h-6.4M112.2 625.59h3.5M532 625.59h-3.5M112.2 596.92h6.4M532 596.92h-6.4M112.2 568.26h3.5M532 568.26h-3.5" stroke="#000" stroke-width="1.1" fill="none"/><text x="105.6" y="773.6" text-anchor="end" font-family='"Liberation Serif", "DejaVu Serif", serif' font-size="14" fill="#000">-200</text><text x="105.6" y="716.28" text-anchor="end" font-family='"Liberation Serif", "DejaVu Serif", serif' font-size="14" fill="#000">-100</text><text x="105.6" y="658.95" text-anchor="end" font-family='"Liberation Serif", "DejaVu Serif", serif' font-size="14" fill="#000">0</text><text x="105.6" y="601.62" text-anchor="end" font-family='"Liberation Serif", "DejaVu Serif", serif' font-size="14" fill="#000">100</text><text x="105.6" y="544.3" text-anchor="end" font-family='"Liberation Serif", "DejaVu Serif", serif' font-size="14" fill="#000">200</text><text x="181.35" y="787.9" text-anchor="middle" font-family='"Liberation Serif", "DejaVu Serif", serif' font-size="14" fill="#000">-50</text><text x="322.1" y="787.9" text-anchor="middle" font-family='"Liberation Serif", "DejaVu Serif", serif' font-size="14" fill="#000">0</text><text x="462.05" y="787.9" text-anchor="middle" font-family='"Liberation Serif", "DejaVu Serif", serif' font-size="14" fill="#000">50</text><text x="322.6" y="804.3" text-anchor="middle" font-family='"Liberation Serif", "DejaVu Serif", serif' font-size="16.6" fill="#000" textLength="184" lengthAdjust="spacingAndGlyphs">Rotational Frequency (Hz)</text><text transform="translate(68.3 647) rotate(-90)" text-anchor="middle" font-family='"Liberation Serif", "DejaVu Serif", serif' font-size="16.6" fill="#000" textLength="146" lengthAdjust="spacingAndGlyphs">Frequency Shift (Hz)</text><line x1="126.5" y1="554.2" x2="155.5" y2="554.2" stroke="#f24a4a" stroke-width="1.9"/><text x="158" y="558" font-family='"Liberation Serif", "DejaVu Serif", serif' font-size="11.6" fill="#000" textLength="80.5" lengthAdjust="spacingAndGlyphs"><tspan font-style="italic">l</tspan> = 1, theoretical</text><text x="158" y="573.2" font-family='"Liberation Serif", "DejaVu Serif", serif' font-size="11.6" fill="#000" textLength="92" lengthAdjust="spacingAndGlyphs"><tspan font-style="italic">l</tspan> = 1, experimental</text><line x1="126.5" y1="584.9" x2="155.5" y2="584.9" stroke="#000" stroke-width="1.9"/><text x="158" y="588.7" font-family='"Liberation Serif", "DejaVu Serif", serif' font-size="11.6" fill="#000" textLength="80.5" lengthAdjust="spacingAndGlyphs"><tspan font-style="italic">l</tspan> = 2, theoretical</text><text x="158" y="604.1" font-family='"Liberation Serif", "DejaVu Serif", serif' font-size="11.6" fill="#000" textLength="92" lengthAdjust="spacingAndGlyphs"><tspan font-style="italic">l</tspan> = 2, experimental</text><line x1="126.5" y1="615.8" x2="155.5" y2="615.8" stroke="#1414f0" stroke-width="1.9"/><text x="158" y="619.6" font-family='"Liberation Serif", "DejaVu Serif", serif' font-size="11.6" fill="#000" textLength="80.5" lengthAdjust="spacingAndGlyphs"><tspan font-style="italic">l</tspan> = 3, theoretical</text><text x="158" y="635" font-family='"Liberation Serif", "DejaVu Serif", serif' font-size="11.6" fill="#000" textLength="92" lengthAdjust="spacingAndGlyphs"><tspan font-style="italic">l</tspan> = 3, experimental</text><circle cx="140.8" cy="569.4" r="3.5" fill="#f01414"/><rect x="137.7" y="597.2" width="6.2" height="6.2" fill="#000"/><polygon points="140.8,626.6 136.7,633.9 144.9,633.9" fill="#1010f0"/><rect x="396.6" y="611.8" width="18.6" height="18.6" fill="none" stroke="#111" stroke-width="1.2" stroke-dasharray="4 2.2"/><line x1="415.5" y1="620.2" x2="575.5" y2="584.9" stroke="#222" stroke-width="1.8" stroke-dasharray="7.5 4.5"/><text x="24.5" y="556" font-family='"Liberation Sans", sans-serif' font-weight="bold" font-size="32.8" fill="#000">(d)</text></g>
<g id="donut"><path d="M738.2 605.1L738.2 552.7M778.23 624.38L819.2 591.71M788.12 667.7L839.2 679.36M760.41 702.43L783.14 749.64M715.99 702.43L693.26 749.64M688.28 667.7L637.2 679.36M698.17 624.38L657.2 591.71" stroke="#222" stroke-opacity="0.38" stroke-width="0.6" stroke-dasharray="1 1" fill="none"/><circle cx="738.2" cy="656.3" r="64.4" stroke="#222" stroke-opacity="0.4" stroke-width="0.6" stroke-dasharray="1 1" fill="none"/><circle cx="738.2" cy="656.3" r="78.2" stroke="#222" stroke-opacity="0.4" stroke-width="0.6" stroke-dasharray="1 1" fill="none"/><circle cx="738.2" cy="656.3" r="90.9" stroke="#222" stroke-opacity="0.4" stroke-width="0.6" stroke-dasharray="1 1" fill="none"/><text x="738.6" y="551" text-anchor="middle" font-family='"Liberation Sans", sans-serif' font-size="7.9" fill="#222">0°</text><text x="823" y="591.8" text-anchor="middle" font-family='"Liberation Sans", sans-serif' font-size="7.9" fill="#222">51.4°</text><text x="844" y="683.6" text-anchor="middle" font-family='"Liberation Sans", sans-serif' font-size="7.9" fill="#222">103°</text><text x="785.5" y="756.8" text-anchor="middle" font-family='"Liberation Sans", sans-serif' font-size="7.9" fill="#222">154°</text><text x="690.3" y="756.8" text-anchor="middle" font-family='"Liberation Sans", sans-serif' font-size="7.9" fill="#222">206°</text><text x="632.3" y="683.6" text-anchor="middle" font-family='"Liberation Sans", sans-serif' font-size="7.9" fill="#222">257°</text><text x="653.5" y="591.8" text-anchor="middle" font-family='"Liberation Sans", sans-serif' font-size="7.9" fill="#222">309°</text><text x="771" y="690" text-anchor="middle" font-family='"Liberation Sans", sans-serif' font-size="7.9" fill="#222">4.5</text><text x="780.8" y="698.9" text-anchor="middle" font-family='"Liberation Sans", sans-serif' font-size="7.9" fill="#222">5.6</text><text x="790.8" y="707.6" text-anchor="middle" font-family='"Liberation Sans", sans-serif' font-size="7.9" fill="#222">6.8</text><text x="800.4" y="716" text-anchor="middle" font-family='"Liberation Sans", sans-serif' font-size="7.9" fill="#222">7.9</text><text x="812.8" y="724" text-anchor="middle" font-family='"Liberation Sans", sans-serif' font-size="7.9" fill="#222">9</text><text x="595.6" y="557.8" text-anchor="end" font-family='"Liberation Sans", sans-serif' font-size="6.8" fill="#333">3</text><line x1="596.6" y1="555.4" x2="598.6" y2="555.4" stroke="#444" stroke-width="0.5"/><text x="595.6" y="591.3" text-anchor="end" font-family='"Liberation Sans", sans-serif' font-size="6.8" fill="#333">2</text><line x1="596.6" y1="588.9" x2="598.6" y2="588.9" stroke="#444" stroke-width="0.5"/><text x="595.6" y="624.8" text-anchor="end" font-family='"Liberation Sans", sans-serif' font-size="6.8" fill="#333">1</text><line x1="596.6" y1="622.4" x2="598.6" y2="622.4" stroke="#444" stroke-width="0.5"/><text x="595.6" y="658.3" text-anchor="end" font-family='"Liberation Sans", sans-serif' font-size="6.8" fill="#333">0</text><line x1="596.6" y1="655.9" x2="598.6" y2="655.9" stroke="#444" stroke-width="0.5"/><text x="595.6" y="691.8" text-anchor="end" font-family='"Liberation Sans", sans-serif' font-size="6.8" fill="#333">-1</text><line x1="596.6" y1="689.4" x2="598.6" y2="689.4" stroke="#444" stroke-width="0.5"/><text x="595.6" y="725.3" text-anchor="end" font-family='"Liberation Sans", sans-serif' font-size="6.8" fill="#333">-2</text><line x1="596.6" y1="722.9" x2="598.6" y2="722.9" stroke="#444" stroke-width="0.5"/><text x="595.6" y="758.8" text-anchor="end" font-family='"Liberation Sans", sans-serif' font-size="6.8" fill="#333">-3</text><line x1="596.6" y1="756.4" x2="598.6" y2="756.4" stroke="#444" stroke-width="0.5"/><rect x="576" y="541.6" width="283.8" height="229.9" fill="none" stroke="#222" stroke-width="1.9" stroke-dasharray="7.5 4.5"/></g>
</svg>
</div>
</body></html>
